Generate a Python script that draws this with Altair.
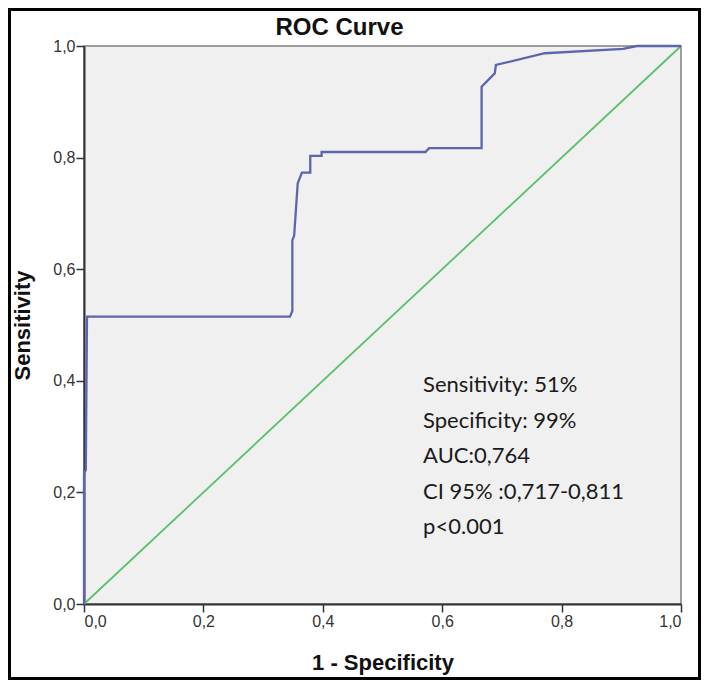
import altair as alt
import pandas as pd

# ROC curve points (1 - specificity, sensitivity)
fpr = [0.0, 0.0, 0.003, 0.005, 0.345, 0.349, 0.349, 0.352, 0.358, 0.365, 0.379, 0.379, 0.398, 0.398,
       0.572, 0.578, 0.666, 0.666, 0.688, 0.690, 0.772, 0.903, 0.926, 1.0]
tpr = [0.0, 0.235, 0.24, 0.515, 0.515, 0.525, 0.652, 0.66, 0.754, 0.773, 0.773, 0.803, 0.803, 0.81,
       0.81, 0.817, 0.817, 0.927, 0.951, 0.966, 0.987, 0.995, 1.0, 1.0]

diag_x = [0.0, 1.0]
diag_y = [0.0, 1.0]

ann_lines = ["Sensitivity: 51%", "Specificity: 99%", "AUC:0,764", "CI 95% :0,717-0,811", "p<0.001"]
ann_x = 0.568
ann_y0 = 0.3925
ann_step = 0.0637

ticks = [0.0, 0.2, 0.4, 0.6, 0.8, 1.0]

roc = pd.DataFrame({"fpr": fpr, "tpr": tpr, "i": range(len(fpr))})
diag = pd.DataFrame({"fpr": diag_x, "tpr": diag_y})
ann = pd.DataFrame({"t": ann_lines,
                    "x": [ann_x] * len(ann_lines),
                    "y": [ann_y0 - k * ann_step for k in range(len(ann_lines))]})

label_expr = "replace(format(datum.value, '.1f'), '.', ',')"

xenc = alt.X("fpr:Q", scale=alt.Scale(domain=[0, 1], nice=False),
             axis=alt.Axis(values=ticks, labelExpr=label_expr, title="1 - Specificity",
                           grid=False, titleY=58, titleBaseline="middle"))
yenc = alt.Y("tpr:Q", scale=alt.Scale(domain=[0, 1], nice=False),
             axis=alt.Axis(values=ticks, labelExpr=label_expr, title="Sensitivity",
                           grid=False, titleX=-62, titleY=279, titleBaseline="middle",
                           titleAngle=-90, titleAlign="center"))

diag_line = alt.Chart(diag).mark_line(color="#5cbf6a", strokeWidth=1.8).encode(
    x=xenc, y=yenc)

roc_line = alt.Chart(roc).mark_line(color="#5a66ad", strokeWidth=2.3, interpolate="linear").encode(
    x="fpr:Q", y="tpr:Q", order="i:Q")

text = alt.Chart(ann).mark_text(align="left", baseline="middle", font="Lato", fontSize=22,
                                color="#1a1a1a").encode(
    x="x:Q", y="y:Q", text="t:N")

frame = alt.Chart(pd.DataFrame({"a": [0]})).mark_rect(
    fill=None, stroke="black", strokeWidth=3, clip=False).encode(
    x=alt.value(-74.5), x2=alt.value(615.5), y=alt.value(-36.5), y2=alt.value(632.5))

chart = alt.layer(diag_line, roc_line, text, frame).properties(
    width=597, height=558,
    title=alt.TitleParams("ROC Curve", anchor="middle", dx=-43, dy=42, offset=10,
                          font="Liberation Sans", fontSize=24, fontWeight="bold",
                          color="#111"),
    autosize=alt.AutoSizeParams(type="none"),
    padding={"left": 76, "top": 38, "right": 20, "bottom": 76},
    background="white",
).configure_view(
    fill="#f0f0f0", stroke="#808080", strokeWidth=1.5
).configure_axis(
    labelFont="Liberation Sans", labelFontSize=16, labelColor="#333",
    titleFont="Liberation Sans", titleFontSize=22, titleFontWeight="bold", titleColor="#111",
    domainColor="#333", domainWidth=2, tickColor="#333", tickSize=8, tickWidth=1.5,
    labelPadding=1
)

chart.save("out.html", embed_options={"renderer": "svg", "actions": False})
